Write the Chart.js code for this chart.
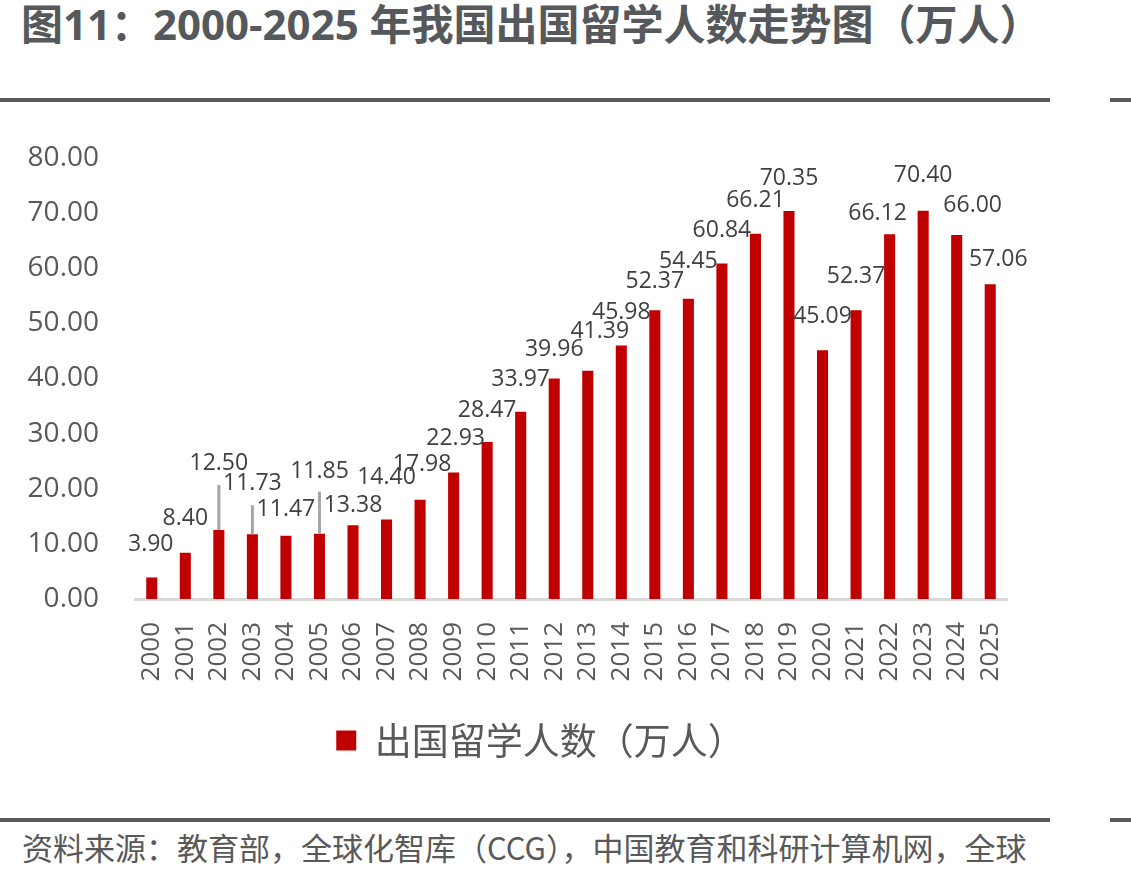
<!DOCTYPE html>
<html>
<head>
<meta charset="utf-8">
<script src="https://cdn.jsdelivr.net/npm/chart.js@4"></script>
<style>
html, body { margin: 0; padding: 0; background: #fff; }
body { width: 1131px; height: 880px; position: relative; overflow: hidden; font-family: "Open Sans", "Noto Sans CJK SC", sans-serif; }
#title { position: absolute; left: 21px; top: 3px; font-size: 42px; line-height: 1; font-weight: 700; color: #55595c; white-space: nowrap; }
.rule { position: absolute; height: 4px; background: #595959; }
#source { position: absolute; left: 22px; top: 831px; font-size: 31px; line-height: 1; color: #595959; white-space: nowrap; font-family: "Noto Sans CJK SC", sans-serif; }
#wrap { position: absolute; left: 0; top: 120px; width: 1050px; height: 680px; }
</style>
</head>
<body>
<div id="title">图11：2000-2025 年我国出国留学人数走势图（万人）</div>
<div class="rule" style="left:0;top:98px;width:1050px"></div>
<div class="rule" style="left:1110px;top:98px;width:21px"></div>
<div id="wrap"><canvas id="studyChart"></canvas></div>
<div class="rule" style="left:0;top:818px;width:1050px"></div>
<div class="rule" style="left:1110px;top:818px;width:21px"></div>
<div id="source">资料来源：教育部，全球化智库（CCG），中国教育和科研计算机网，全球</div>

<script>
const years = ["2000","2001","2002","2003","2004","2005","2006","2007","2008","2009","2010","2011","2012",
  "2013","2014","2015","2016","2017","2018","2019","2020","2021","2022","2023","2024","2025"];
const students = [3.90,8.40,12.50,11.73,11.47,11.85,13.38,14.40,17.98,22.93,28.47,33.97,39.96,
  41.39,45.98,52.37,54.45,60.84,66.21,70.35,45.09,52.37,66.12,70.40,66.00,57.06];
const yTicks = [0,10,20,30,40,50,60,70,80];
const seriesName = "出国留学人数（万人）";

// where each value label sits, relative to its bar top (manual placement like the original)
const labelShift = [[-1,-33],[0,-34],[0,-67],[0,-51],[0,-26],[0,-62],[0,-20],[0,-42],[2,-35],[2,-34],
  [0,-32],[0,-32],[0,-29],[12,-39],[0,-33],[0,-29],[0,-37],[0,-33],[0,-33],[0,-33],
  [0,-34],[0,-34],[-12,-21],[0,-35],[16,-30],[8,-25]];
// leader lines: index -> length above bar top
const leaders = {2: 45, 3: 29, 5: 42};

const valueLabels = {
  id: "valueLabels",
  afterDatasetsDraw(chart) {
    const c = chart.ctx;
    const bars = chart.getDatasetMeta(0).data;
    c.save();
    c.strokeStyle = "#a6a6a6";
    c.lineWidth = 3;
    Object.keys(leaders).forEach(k => {
      const b = bars[k];
      c.beginPath();
      c.moveTo(b.x, b.y);
      c.lineTo(b.x, b.y - leaders[k]);
      c.stroke();
    });
    c.fillStyle = "#404040";
    c.font = "23px 'Open Sans'";
    c.textAlign = "center";
    c.textBaseline = "middle";
    bars.forEach((b, i) => {
      c.fillText(students[i].toFixed(2), b.x + labelShift[i][0], b.y + labelShift[i][1]);
    });
    c.restore();
  }
};

// the legend in the original sits a little right of centre
const legendNudge = {
  id: "legendNudge",
  afterLayout(chart) {
    chart.legend.left += 37;
    chart.legend.right += 37;
  }
};

function drawChart() {
  new Chart(document.getElementById("studyChart"), {
    type: "bar",
    data: {
      labels: years,
      datasets: [{
        label: seriesName,
        data: students,
        backgroundColor: "#C00000",
        barPercentage: 0.33,
        categoryPercentage: 1
      }]
    },
    options: {
      responsive: true,
      maintainAspectRatio: false,
      animation: false,
      layout: { padding: { top: 0, right: 43, bottom: 31, left: 0 } },
      plugins: {
        tooltip: { enabled: false },
        legend: {
          position: "bottom",
          labels: {
            boxWidth: 20,
            boxHeight: 20,
            color: "#595959",
            font: { family: "'Noto Sans CJK SC'", size: 37 }
          }
        }
      },
      scales: {
        x: {
          grid: { display: false },
          border: { display: true, color: "#d9d9d9", width: 3 },
          ticks: {
            color: "#595959",
            font: { family: "'Open Sans'", size: 26 },
            minRotation: 90,
            maxRotation: 90,
            padding: 15,
            autoSkip: false
          },
          afterFit(s) { s.height = 113; }
        },
        y: {
          min: 0,
          max: 80,
          grid: { display: false, tickLength: 15 },
          border: { display: false },
          afterBuildTicks(s) { s.ticks = yTicks.map(v => ({ value: v })); },
          ticks: {
            color: "#595959",
            font: { family: "'Open Sans'", size: 28 },
            padding: 21,
            callback: v => v.toFixed(2)
          },
          afterFit(s) { s.width = 135; }
        }
      }
    },
    plugins: [valueLabels, legendNudge]
  });
}

Promise.all([
  document.fonts.load("37px 'Noto Sans CJK SC'", "出国留学人数"),
  document.fonts.load("26px 'Open Sans'", "0123456789.")
]).then(drawChart, drawChart);
</script>
</body>
</html>
